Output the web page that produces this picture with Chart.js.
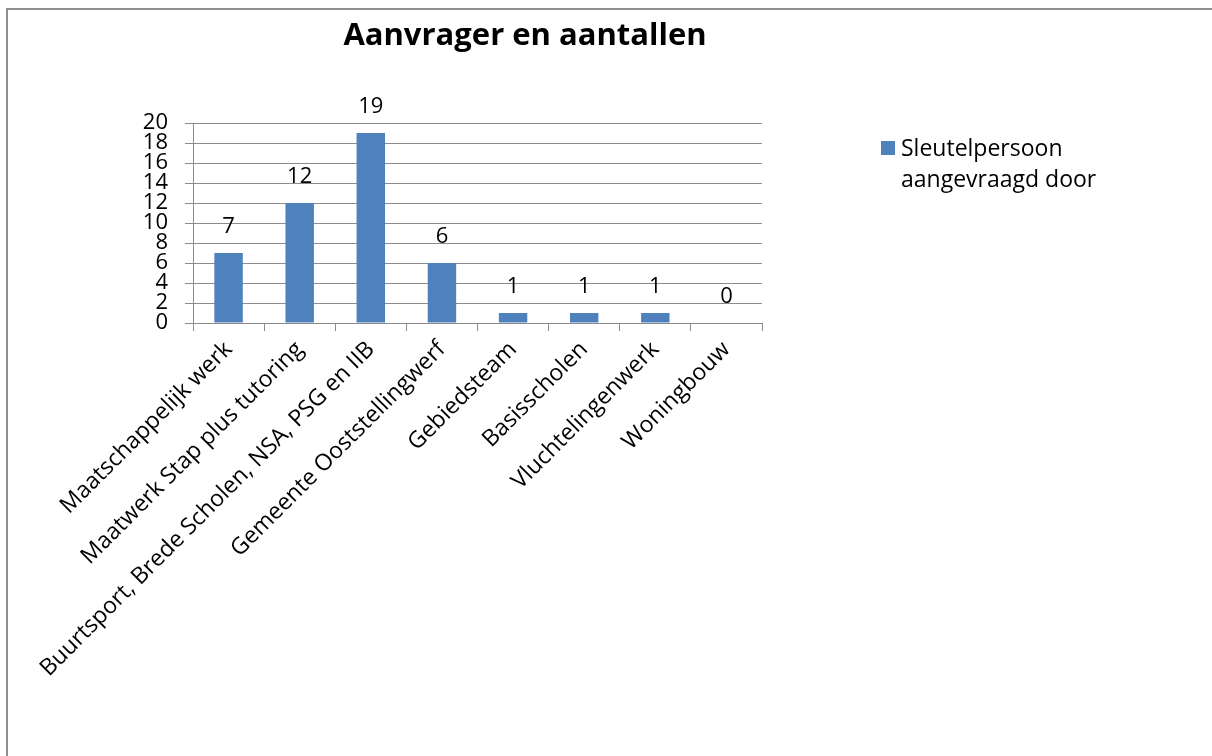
<!DOCTYPE html>
<html lang="nl">
<head>
    <meta charset="UTF-8">
    <title>Aanvrager en aantallen</title>
    <script src="https://cdn.jsdelivr.net/npm/chart.js"></script>
    <style>
        body { margin: 0; background: #fff; overflow: hidden; }
        #frame { position: absolute; left: 6px; top: 8px; width: 1400px; height: 900px; border: 2px solid #8e8e8e; }
        #wrap { position: absolute; left: 0; top: 0; width: 1212px; height: 756px; }
    </style>
</head>
<body>
    <div id="frame"></div>
    <div id="wrap"><canvas id="barChart" width="1212" height="756"></canvas></div>

    <script>
        var chartTitle = 'Aanvrager en aantallen';
        var seriesName = ['Sleutelpersoon', 'aangevraagd door'];
        var categories = [
            'Maatschappelijk werk',
            'Maatwerk Stap plus tutoring',
            'Buurtsport, Brede Scholen, NSA, PSG en IIB',
            'Gemeente Ooststellingwerf',
            'Gebiedsteam',
            'Basisscholen',
            'Vluchtelingenwerk',
            'Woningbouw'
        ];
        var counts = [7, 12, 19, 6, 1, 1, 1, 0];
        var yTicks = [0, 2, 4, 6, 8, 10, 12, 14, 16, 18, 20];

        var barColor = '#4F81BD';
        var gridColor = '#8c8c8c';
        var labelFont = '"Open Sans"';

        // value labels, title and legend drawn on top
        var extras = {
            id: 'extras',
            afterDatasetsDraw: function (chart) {
                var ctx = chart.ctx;
                var meta = chart.getDatasetMeta(0);
                ctx.save();
                ctx.fillStyle = '#000';
                ctx.font = '22px ' + labelFont;
                ctx.textAlign = 'center';
                ctx.textBaseline = 'middle';
                meta.data.forEach(function (bar, i) {
                    ctx.fillText(String(counts[i]), bar.x, bar.y - 26);
                });

                ctx.font = 'bold 31px ' + labelFont;
                ctx.fillText(chartTitle, 525, 36);

                ctx.fillStyle = barColor;
                ctx.fillRect(881, 141, 14, 14);
                ctx.fillStyle = '#000';
                ctx.font = '23px ' + labelFont;
                ctx.textAlign = 'left';
                ctx.textBaseline = 'alphabetic';
                ctx.fillText(seriesName[0], 901, 156);
                ctx.fillText(seriesName[1], 901, 187);
                ctx.restore();
            }
        };

        new Chart(document.getElementById('barChart'), {
            type: 'bar',
            data: {
                labels: categories,
                datasets: [{
                    label: seriesName.join(' '),
                    data: counts,
                    backgroundColor: barColor,
                    borderWidth: 0,
                    barPercentage: 0.8,
                    categoryPercentage: 0.5
                }]
            },
            options: {
                responsive: false,
                animation: false,
                layout: { padding: { top: 123, left: 0, right: 450, bottom: 33 } },
                plugins: {
                    legend: { display: false },
                    title: { display: false },
                    tooltip: { enabled: false }
                },
                scales: {
                    x: {
                        afterFit: function (scale) { scale.height = 400; },
                        grid: {
                            offset: true,
                            drawOnChartArea: false,
                            color: gridColor,
                            tickLength: 8
                        },
                        border: { color: gridColor },
                        ticks: {
                            color: '#000',
                            font: { family: labelFont, size: 23 },
                            minRotation: 45,
                            maxRotation: 45,
                            autoSkip: false,
                            padding: 5,
                            labelOffset: 0
                        }
                    },
                    y: {
                        min: 0,
                        max: 20,
                        afterFit: function (scale) { scale.width = 193; },
                        afterBuildTicks: function (scale) {
                            scale.ticks = yTicks.map(function (v) { return { value: v }; });
                        },
                        grid: { color: gridColor, tickLength: 8 },
                        border: { color: gridColor },
                        ticks: {
                            color: '#000',
                            font: { family: labelFont, size: 22 },
                            autoSkip: false,
                            padding: 17
                        }
                    }
                }
            },
            plugins: [extras]
        });
    </script>
</body>
</html>
